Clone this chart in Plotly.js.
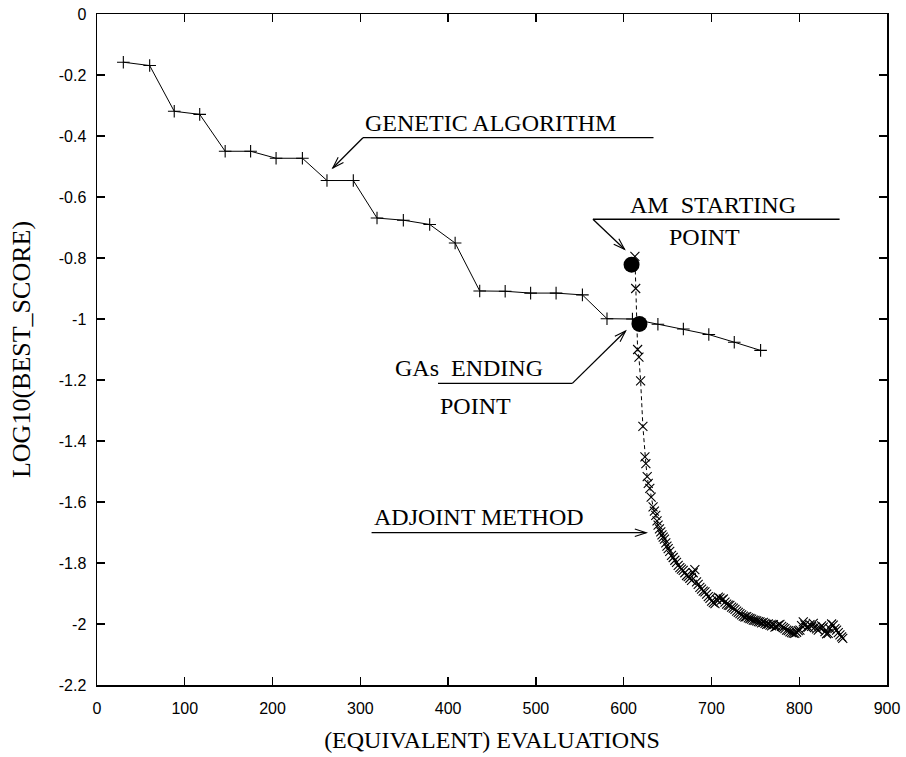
<!DOCTYPE html>
<html>
<head>
<meta charset="utf-8">
<script src="https://cdn.plot.ly/plotly-3.0.1.min.js"></script>
<style>html,body{margin:0;padding:0;background:#fff;}</style>
</head>
<body>
<div id="chart" style="width:906px;height:757px;"></div>
<script>
// Genetic algorithm best score history
const gaX = [30, 60, 88, 117, 146, 175, 204, 234, 262, 292, 319, 349, 379, 408, 436, 465, 494, 523, 553, 581, 610, 639, 668, 697, 726, 756];
const gaY = [-0.158, -0.169, -0.319, -0.329, -0.450, -0.450, -0.473, -0.473, -0.546, -0.546, -0.669, -0.676, -0.690, -0.751, -0.908, -0.909, -0.915, -0.915, -0.921, -0.999, -1.000, -1.017, -1.033, -1.051, -1.076, -1.103];

// Adjoint method history
const amX = [612.8, 613.7, 615.9, 617.4, 619.3, 621.9, 624.2, 625.3, 626.8, 628, 629.8, 631.3, 633.5, 635, 636.6, 638, 639.2, 640.8, 642.3, 643.6, 645, 646.5, 648, 649.3, 650.7, 652.5, 654.5, 656.4, 658.3, 660.2, 662.1, 664, 665.8, 667.8, 669.7, 671.6, 673.5, 675.4, 677.3, 679.2, 681.1, 683, 684.9, 686.8, 688.7, 690.6, 692.6, 694.5, 696.4, 698.3, 700.2, 702.1, 704, 706, 707.8, 709.7, 711.6, 713.5, 715.4, 717.3, 719.2, 721, 723, 724.9, 726.8, 728.7, 730.6, 732.5, 734.4, 736.3, 738.2, 740.1, 742, 743.9, 745.8, 747.7, 749.6, 751.5, 753.4, 755.3, 757.2, 759.1, 761, 762.9, 764.8, 766.7, 768.6, 770.5, 772.4, 774.3, 776.2, 778, 780, 781.9, 783.7, 785.6, 787.5, 789.4, 791.3, 793.2, 795, 797, 798.9, 800.8, 802.7, 804.6, 806.5, 808.4, 810.3, 812.2, 814.1, 816, 817.9, 819.8, 821.7, 823.6, 825.5, 827.4, 829.3, 831.2, 833, 835, 836.9, 838.8, 840.7, 842.6, 844.5, 846.4, 848.3, 849.6];
const amY = [-0.795, -0.900, -1.100, -1.125, -1.203, -1.352, -1.452, -1.474, -1.517, -1.539, -1.555, -1.584, -1.616, -1.630, -1.644, -1.662, -1.676, -1.688, -1.698, -1.708, -1.715, -1.722, -1.734, -1.745, -1.753, -1.762, -1.775, -1.782, -1.791, -1.798, -1.808, -1.815, -1.820, -1.824, -1.832, -1.841, -1.845, -1.850, -1.857, -1.832, -1.822, -1.862, -1.870, -1.880, -1.886, -1.892, -1.895, -1.902, -1.910, -1.916, -1.925, -1.930, -1.933, -1.920, -1.912, -1.915, -1.922, -1.918, -1.928, -1.935, -1.938, -1.939, -1.945, -1.948, -1.952, -1.958, -1.962, -1.966, -1.970, -1.974, -1.977, -1.976, -1.980, -1.982, -1.984, -1.987, -1.988, -1.990, -1.992, -1.993, -1.996, -1.995, -1.998, -2.001, -2.000, -2.004, -2.006, -2.002, -2.010, -2.008, -2.004, -2.001, -2.008, -2.012, -2.015, -2.020, -2.022, -2.026, -2.028, -2.030, -2.031, -2.027, -2.022, -2.020, -2.005, -1.993, -2.003, -2.012, -2.010, -2.002, -2.008, -1.998, -2.010, -2.016, -2.020, -2.013, -2.006, -2.010, -2.025, -2.032, -2.031, -2.015, -2.000, -2.004, -2.015, -2.020, -2.028, -2.036, -2.042, -2.047];

// Highlighted points
const amStartX = [609];
const amStartY = [-0.822];
const gaEndX = [618];
const gaEndY = [-1.016];

// Axis ticks
const xTickVals = [0, 100, 200, 300, 400, 500, 600, 700, 800, 900];
const yTickVals = [0, -0.2, -0.4, -0.6, -0.8, -1, -1.2, -1.4, -1.6, -1.8, -2, -2.2];
const yTickText = ['0', '-0.2', '-0.4', '-0.6', '-0.8', '-1', '-1.2', '-1.4', '-1.6', '-1.8', '-2', '-2.2'];

const W = 906, H = 757;
const M = {l: 97, r: 19, t: 14, b: 72};
const xRange = [0, 900], yRange = [-2.2, 0];
const sx = (W - M.l - M.r) / (xRange[1] - xRange[0]);
const sy = (H - M.t - M.b) / (yRange[1] - yRange[0]);

const serif = 'Liberation Serif, Times New Roman, serif';
const sans = 'Liberation Sans, Arial, sans-serif';

function arrowShapes(x0, y0, x1, y1) {
  const dx = (x1 - x0) * sx, dy = -(y1 - y0) * sy;
  const len = Math.hypot(dx, dy);
  const ux = dx / len, uy = dy / len;
  const L = 12, a = 18 * Math.PI / 180;
  const pts = [a, -a].map(t => {
    const rx = ux * Math.cos(t) - uy * Math.sin(t);
    const ry = ux * Math.sin(t) + uy * Math.cos(t);
    return [x1 - L * rx / sx, y1 + L * ry / sy];
  });
  return [
    {type: 'line', xref: 'x', yref: 'y', x0: x0, y0: y0, x1: x1, y1: y1, line: {color: 'black', width: 1.3}},
    {type: 'path', xref: 'x', yref: 'y',
     path: `M ${pts[0][0]} ${pts[0][1]} L ${x1} ${y1} L ${pts[1][0]} ${pts[1][1]}`,
     line: {color: 'black', width: 1.1}}
  ];
}
function seg(x0, y0, x1, y1) {
  return {type: 'line', xref: 'x', yref: 'y', x0: x0, y0: y0, x1: x1, y1: y1, line: {color: 'black', width: 1.3}};
}

const shapes = [].concat(
  [seg(303, -0.4056, 634, -0.4056)], arrowShapes(303, -0.4056, 268.6, -0.505),
  [seg(565, -0.673, 846, -0.673)], arrowShapes(565, -0.673, 601, -0.7715),
  [seg(388.5, -1.211, 541.5, -1.211)], arrowShapes(541.5, -1.211, 602.2, -1.0393),
  arrowShapes(312.8, -1.7007, 625.7, -1.7007)
);

function label(text, x, y) {
  return {text: text, x: x, y: y, xref: 'x', yref: 'y', xanchor: 'left', yanchor: 'middle',
          showarrow: false, font: {family: serif, size: 24, color: 'black'}};
}
const annotations = [
  label('GENETIC ALGORITHM', 303, -0.357),
  label('AM&nbsp; STARTING', 605, -0.626),
  label('POINT', 649, -0.730),
  label('GAs&nbsp; ENDING', 337, -1.162),
  label('POINT', 388, -1.285),
  label('ADJOINT METHOD', 312.8, -1.648)
];

const traces = [
  {x: gaX, y: gaY, type: 'scatter', mode: 'lines+markers',
   line: {color: 'black', width: 1},
   marker: {symbol: 'cross-thin', size: 9, color: 'black', line: {color: 'black', width: 1.1}}},
  {x: amX, y: amY, type: 'scatter', mode: 'lines+markers',
   line: {color: 'black', width: 1, dash: '4px,3px'},
   marker: {symbol: 'x-thin', size: 9, color: 'black', line: {color: 'black', width: 1.1}}},
  {x: amStartX, y: amStartY, type: 'scatter', mode: 'markers',
   marker: {symbol: 'circle', size: 16, color: 'black'}},
  {x: gaEndX, y: gaEndY, type: 'scatter', mode: 'markers',
   marker: {symbol: 'circle', size: 16, color: 'black'}}
];

const axisCommon = {
  showgrid: false, zeroline: false, showline: true, linecolor: 'black', linewidth: 1.5,
  mirror: 'ticks', ticks: 'inside', ticklen: 8, tickwidth: 1.3, tickcolor: 'black',
  tickfont: {family: sans, size: 16, color: 'black'}
};

const layout = {
  width: W, height: H,
  margin: {l: M.l, r: M.r, t: M.t, b: M.b, pad: 0},
  paper_bgcolor: 'white', plot_bgcolor: 'white',
  showlegend: false,
  xaxis: Object.assign({}, axisCommon, {
    range: xRange, tickmode: 'array', tickvals: xTickVals,
    ticklabelstandoff: 8,
    title: {text: '(EQUIVALENT) EVALUATIONS', font: {family: serif, size: 24, color: 'black'}, standoff: 15}
  }),
  yaxis: Object.assign({}, axisCommon, {
    range: yRange, tickmode: 'array', tickvals: yTickVals, ticktext: yTickText,
    ticklabelstandoff: 6,
    title: {text: 'LOG10(BEST_SCORE)', font: {family: serif, size: 26, color: 'black'}, standoff: 20}
  }),
  shapes: shapes,
  annotations: annotations
};

Plotly.newPlot('chart', traces, layout, {displayModeBar: false, staticPlot: true});
</script>
</body>
</html>
